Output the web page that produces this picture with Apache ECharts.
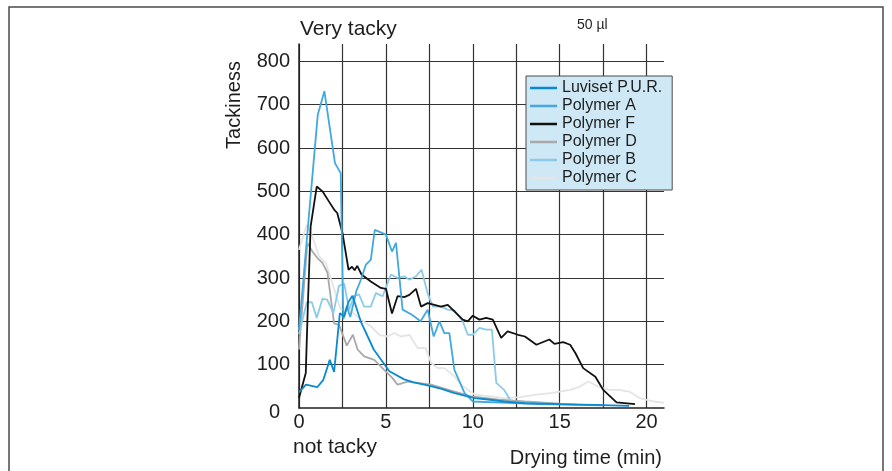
<!DOCTYPE html>
<html>
<head>
<meta charset="utf-8">
<script src="https://cdn.jsdelivr.net/npm/echarts@6.0.0/dist/echarts.min.js"></script>
<style>
  html, body { margin: 0; padding: 0; background: #fff; }
  #chart { width: 892px; height: 471px; }
</style>
</head>
<body>
<div id="chart"></div>
<script>
// [drying time (min), tackiness]
var luvisetPUR = [[0,36],[0.4,54],[1.05,48],[1.4,65],[1.77,111],[2.02,83],[2.35,219],[2.6,211],[2.85,245],[3.08,259],[3.55,200],[4.3,135],[5.2,85],[6.05,66],[6.6,59],[7.4,52],[8.2,44],[8.9,35],[10.1,23],[11,19],[11.8,15],[13,11],[15,9],[17,7],[19,5]];
var polymerA = [[0,180],[0.55,434],[1.08,677],[1.46,731],[2.07,565],[2.4,542],[2.55,205],[2.75,235],[2.95,210],[3.3,270],[3.56,296],[3.85,331],[4.13,342],[4.36,411],[5,400],[5.35,361],[5.58,381],[5.96,227],[6.5,215],[7,200],[7.4,227],[7.75,165],[8.08,200],[8.36,173],[8.65,173],[8.94,88],[9.52,35],[10,15],[12,12],[14,9],[16,7],[17.5,6]];
var polymerF = [[0,23],[0.39,81],[0.52,250],[0.67,419],[1.02,511],[1.35,500],[1.7,478],[2.02,458],[2.2,450],[2.5,404],[2.85,319],[3.05,326],[3.2,318],[3.35,328],[3.6,308],[4.13,292],[4.71,277],[5,275],[5.35,218],[5.67,258],[6.06,256],[6.35,261],[6.73,275],[7.02,234],[7.4,242],[7.79,238],[8.17,234],[8.56,238],[8.94,223],[9.42,204],[9.71,200],[10,213],[10.38,204],[10.77,208],[11.15,204],[11.63,162],[12,177],[12.6,169],[13,165],[13.66,146],[14.4,158],[14.7,148],[15.2,152],[15.6,146],[15.9,127],[16.35,92],[17.05,72],[17.5,42],[18.27,13],[19.33,9]];
var polymerD = [[0,135],[0.48,381],[0.77,361],[1.06,346],[1.35,335],[1.64,312],[2.02,195],[2.3,192],[2.75,144],[3.1,169],[3.37,135],[3.75,119],[4.33,111],[4.9,88],[5.38,69],[5.67,54],[6.25,61],[7.6,54],[8.94,38],[9.9,27],[11.5,19],[13,15],[15,10]];
var polymerB = [[0,170],[0.45,244],[0.74,244],[1.02,208],[1.35,252],[1.62,250],[1.98,219],[2.3,282],[2.6,287],[2.88,227],[3.17,258],[3.45,262],[3.75,234],[4.13,234],[4.42,265],[4.81,258],[5.29,308],[5.67,300],[6.06,304],[6.35,296],[6.73,304],[7.05,319],[7.4,265],[7.7,234],[8.17,234],[8.56,227],[8.95,225],[9.42,200],[9.71,169],[10,169],[10.38,185],[10.77,181],[11.1,181],[11.35,58],[11.8,42],[12.2,15],[13,12],[14.5,10],[16,8]];
var polymerC = [[0,365],[0.44,423],[0.77,396],[1.15,350],[1.54,335],[1.9,290],[2.4,227],[2.88,227],[3.56,204],[4.1,190],[4.62,169],[5.1,165],[5.48,173],[5.87,165],[6.35,169],[6.83,138],[7.3,138],[7.6,104],[7.98,92],[8.36,92],[8.94,73],[9.42,50],[10.1,31],[11.06,27],[11.8,23],[12.7,25],[13.66,31],[14.6,35],[15,38],[15.6,42],[16.1,48],[16.65,61],[17.2,50],[17.8,42],[18.4,42],[19,38],[19.6,23],[20.4,15],[21,12]];

var seriesNames = ["Luviset P.U.R.", "Polymer A", "Polymer F", "Polymer D", "Polymer B", "Polymer C"];
var yTicks = [0, 100, 200, 300, 400, 500, 600, 700, 800];
var xTicks = [0, 5, 10, 15, 20];

var font = "Liberation Sans";
var ink = "#1e1e1e";

function line(name, data, color, width, z) {
  return {
    name: name,
    type: "line",
    data: data,
    symbol: "none",
    z: z,
    lineStyle: { color: color, width: width },
    itemStyle: { color: color }
  };
}

var chart = echarts.init(document.getElementById("chart"), null, { renderer: "canvas" });

var option = {
  animation: false,
  backgroundColor: "#fff",
  grid: { left: 299, right: 228, top: 44, bottom: 63, containLabel: false },
  legend: {
    data: seriesNames,
    orient: "vertical",
    left: 526,
    top: 76,
    padding: [4, 10, 4, 4],
    icon: "rect",
    itemWidth: 27,
    itemHeight: 2.5,
    itemGap: 2,
    backgroundColor: "#cfe8f5",
    borderColor: "#4a4a4a",
    borderWidth: 1,
    borderRadius: 0,
    textStyle: { fontFamily: font, fontSize: 16, color: ink, lineHeight: 16 }
  },
  xAxis: {
    type: "value",
    min: 0,
    max: 21,
    interval: 2.5,
    axisLine: { show: true, lineStyle: { color: "#222", width: 1.5 } },
    axisTick: { show: false },
    splitLine: { show: true, showMaxLine: false, lineStyle: { color: "#333", width: 1.2 } },
    axisLabel: {
      margin: 4,
      fontFamily: font,
      fontSize: 20,
      color: ink,
      showMaxLabel: false,
      formatter: function (v) { return xTicks.indexOf(v) >= 0 ? String(v) : ""; }
    }
  },
  yAxis: {
    type: "value",
    min: 0,
    max: 840,
    interval: 100,
    axisLine: { show: true, lineStyle: { color: "#222", width: 1.5 } },
    axisTick: { show: false },
    splitLine: { show: true, showMaxLine: false, showMinLine: false, lineStyle: { color: "#333", width: 1.2 } },
    axisLabel: {
      margin: 9,
      fontFamily: font,
      fontSize: 20,
      color: ink,
      showMaxLabel: false,
      formatter: function (v) {
        if (v === 0) return "{z|0}";
        return yTicks.indexOf(v) >= 0 ? String(v) : "";
      },
      rich: {
        z: { fontFamily: font, fontSize: 20, color: ink, padding: [8, 10, 0, 0] }
      }
    }
  },
  graphic: [
    { type: "rect", silent: true, shape: { x: 9, y: 7, width: 874, height: 500 },
      style: { fill: "none", stroke: "#4a4a4a", lineWidth: 1.5 } },
    { type: "text", x: 300, y: 29, style: { text: "Very tacky", font: "21px " + font, fill: ink, textVerticalAlign: "middle" } },
    { type: "text", x: 577, y: 25, style: { text: "50 µl", font: "14px " + font, fill: ink, textVerticalAlign: "middle" } },
    { type: "text", x: 234, y: 105, rotation: Math.PI / 2,
      style: { text: "Tackiness", font: "20px " + font, fill: ink, textAlign: "center", textVerticalAlign: "middle" } },
    { type: "text", x: 293, y: 447, style: { text: "not tacky", font: "21px " + font, fill: ink, textVerticalAlign: "middle" } },
    { type: "text", x: 662, y: 458, style: { text: "Drying time (min)", font: "20px " + font, fill: ink, textAlign: "right", textVerticalAlign: "middle" } }
  ],
  series: [
    line("Polymer C", polymerC, "#e4e4e4", 1.8, 2),
    line("Polymer D", polymerD, "#a9a9a9", 1.8, 3),
    line("Polymer B", polymerB, "#8ccbe8", 1.8, 4),
    line("Polymer F", polymerF, "#111111", 1.8, 5),
    line("Polymer A", polymerA, "#41a9dd", 1.8, 6),
    line("Luviset P.U.R.", luvisetPUR, "#0b8ad0", 1.8, 7)
  ]
};

chart.setOption(option);
</script>
</body>
</html>
